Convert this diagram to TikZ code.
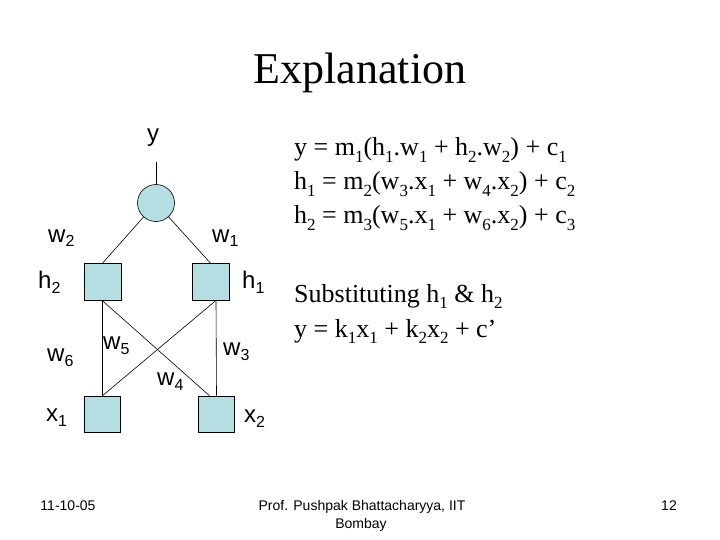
\documentclass[tikz,border=0pt]{standalone}
\usepackage{fontspec}
\setmainfont{Liberation Serif}
\newfontfamily\arialf{Liberation Sans}
\usetikzlibrary{calc}
\definecolor{nodefill}{RGB}{180,222,225}
\newcommand\eqsub[1]{\raisebox{-6.5pt}{\fontsize{17}{17}\selectfont #1}}
\newcommand\lbsub[1]{\raisebox{-5pt}{\fontsize{16}{16}\selectfont #1}}
\begin{document}
\begin{tikzpicture}[x=1pt,y=-1pt,
  sq/.style={draw=black,line width=0.6pt,fill=nodefill,minimum size=37pt,inner sep=0pt},
  circ/.style={draw=black,line width=0.6pt,fill=nodefill,circle,minimum size=37pt,inner sep=0pt},
  conn/.style={draw=black,line width=0.6pt},
  lbl/.style={anchor=base west,inner sep=0pt,font=\arialf\fontsize{24}{24}\selectfont},
  eq/.style={anchor=base west,inner sep=0pt,font=\fontsize{26}{26}\selectfont},
  foot/.style={anchor=base,inner sep=0pt,font=\arialf\fontsize{14}{14}\selectfont}]
\useasboundingbox (0,0) rectangle (720,540);
\fill[white] (0,0) rectangle (720,540);
% title
\node[anchor=base,inner sep=0pt,font=\fontsize{44}{44}\selectfont] (title) at (360,84) {Explanation};
% network
\node[circ] (c) at (156,203) {};
\node[sq] (h2) at (102.5,282) {};
\node[sq] (h1) at (210.5,282) {};
\node[sq,minimum size=36pt] (x1) at (102.5,414) {};
\node[sq,minimum size=36pt] (x2) at (216.5,414) {};
\coordinate (yt) at (156,162);
\draw[conn] (yt) -- (c.north);
\draw[conn] (c) -- (h2.north);
\draw[conn] (c) -- (h1.north);
\draw[conn] (h2.south) -- (x1.north);
\draw[conn] (h2.south) -- ($(x2.north)+(-7,0)$);
\draw[conn] ($(h1.south)+(5,0)$) -- (x1.north);
\draw[conn] ($(h1.south)+(5.5,0)$) -- (x2.north);
% labels
\node[lbl] (ly) at (147,142) {y};
\node[lbl] (lw2) at (48,242) {w\lbsub{2}};
\node[lbl] (lw1) at (212,242) {w\lbsub{1}};
\node[lbl] (lh2) at (38,288) {h\lbsub{2}};
\node[lbl] (lh1) at (242,288) {h\lbsub{1}};
\node[lbl] (lw6) at (47,361) {w\lbsub{6}};
\node[lbl] (lw5) at (103,349) {w\lbsub{5}};
\node[lbl] (lw3) at (223,355) {w\lbsub{3}};
\node[lbl] (lw4) at (157,385) {w\lbsub{4}};
\node[lbl] (lx1) at (46,421) {x\lbsub{1}};
\node[lbl] (lx2) at (244,422) {x\lbsub{2}};
% equations
\node[eq] (e1) at (294,156) {y = m\eqsub{1}(h\eqsub{1}.w\eqsub{1} + h\eqsub{2}.w\eqsub{2}) + c\eqsub{1}};
\node[eq] (e2) at (294,190) {h\eqsub{1} = m\eqsub{2}(w\eqsub{3}.x\eqsub{1} + w\eqsub{4}.x\eqsub{2}) + c\eqsub{2}};
\node[eq] (e3) at (294,224) {h\eqsub{2} = m\eqsub{3}(w\eqsub{5}.x\eqsub{1} + w\eqsub{6}.x\eqsub{2}) + c\eqsub{3}};
\node[eq] (e4) at (294,302) {Substituting h\eqsub{1} \& h\eqsub{2}};
\node[eq] (e5) at (294,337) {y = k\eqsub{1}x\eqsub{1} + k\eqsub{2}x\eqsub{2} + c’};
% footer
\node[foot] (date) at (68,510) {11-10-05};
\node[foot] (auth) at (362,510) {Prof. Pushpak Bhattacharyya, IIT};
\node[foot] (auth2) at (361,528) {Bombay};
\node[foot] (page) at (669,510) {12};
\end{tikzpicture}
\end{document}
